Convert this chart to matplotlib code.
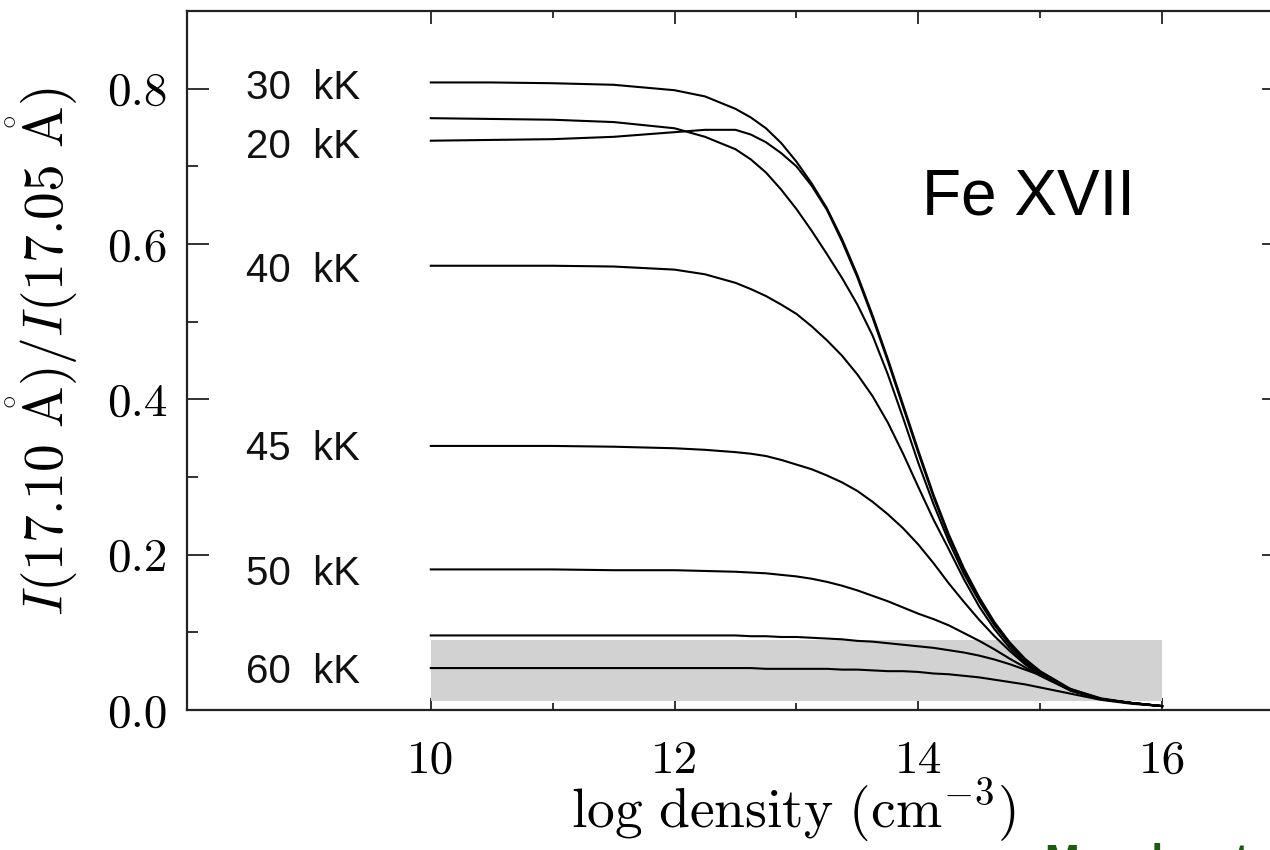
import matplotlib
matplotlib.use("Agg")
import matplotlib.pyplot as plt
from matplotlib.ticker import FixedLocator

plt.rcParams["mathtext.fontset"] = "cm"

# ── data (log density vs line ratio)
density = [10.0, 10.5, 11.0, 11.5, 12.0, 12.25, 12.5, 12.625, 12.75, 12.875,
           13.0, 13.125, 13.25, 13.375, 13.5, 13.625, 13.75, 13.875, 14.0,
           14.125, 14.25, 14.375, 14.5, 14.625, 14.75, 14.875, 15.0, 15.25,
           15.5, 15.75, 16.0]

ratio_30kK = [0.808, 0.808, 0.807, 0.805, 0.798, 0.790, 0.774, 0.763, 0.749, 0.730,
              0.706, 0.678, 0.646, 0.606, 0.560, 0.508, 0.452, 0.393, 0.334,
              0.277, 0.226, 0.182, 0.145, 0.113, 0.087, 0.066, 0.050, 0.027,
              0.014, 0.009, 0.005]
ratio_25kK = [0.762, 0.761, 0.760, 0.757, 0.749, 0.738, 0.722, 0.709, 0.692, 0.670,
              0.645, 0.617, 0.587, 0.556, 0.522, 0.482, 0.432, 0.376, 0.318,
              0.265, 0.217, 0.175, 0.140, 0.109, 0.084, 0.064, 0.048, 0.026,
              0.014, 0.009, 0.005]
ratio_20kK = [0.733, 0.734, 0.735, 0.738, 0.744, 0.747, 0.747, 0.741, 0.731, 0.717,
              0.700, 0.675, 0.644, 0.603, 0.557, 0.505, 0.449, 0.390, 0.331,
              0.274, 0.223, 0.180, 0.143, 0.111, 0.085, 0.065, 0.049, 0.026,
              0.014, 0.009, 0.005]
ratio_40kK = [0.572, 0.572, 0.572, 0.571, 0.567, 0.561, 0.550, 0.542, 0.533, 0.522,
              0.510, 0.494, 0.476, 0.456, 0.432, 0.404, 0.370, 0.330, 0.287,
              0.245, 0.207, 0.168, 0.133, 0.104, 0.080, 0.061, 0.046, 0.025,
              0.014, 0.009, 0.005]
ratio_45kK = [0.340, 0.340, 0.340, 0.339, 0.337, 0.335, 0.332, 0.330, 0.327, 0.322,
              0.316, 0.310, 0.302, 0.293, 0.282, 0.268, 0.252, 0.234, 0.213,
              0.189, 0.163, 0.139, 0.116, 0.095, 0.076, 0.059, 0.045, 0.025,
              0.014, 0.009, 0.005]
ratio_50kK = [0.181, 0.181, 0.181, 0.180, 0.180, 0.179, 0.178, 0.177, 0.176, 0.174,
              0.172, 0.169, 0.165, 0.160, 0.154, 0.147, 0.140, 0.132, 0.124,
              0.117, 0.109, 0.099, 0.089, 0.078, 0.066, 0.055, 0.044, 0.025,
              0.014, 0.009, 0.005]
ratio_55kK = [0.096, 0.096, 0.096, 0.096, 0.096, 0.096, 0.096, 0.095, 0.095, 0.094,
              0.094, 0.093, 0.092, 0.091, 0.089, 0.088, 0.086, 0.084, 0.082,
              0.080, 0.077, 0.074, 0.070, 0.065, 0.059, 0.052, 0.045, 0.027,
              0.015, 0.009, 0.005]
ratio_60kK = [0.054, 0.054, 0.054, 0.054, 0.054, 0.054, 0.054, 0.054, 0.053, 0.053,
              0.053, 0.053, 0.053, 0.052, 0.052, 0.051, 0.050, 0.050, 0.049,
              0.047, 0.046, 0.044, 0.042, 0.039, 0.036, 0.033, 0.029, 0.021,
              0.013, 0.008, 0.005]

curves = [ratio_30kK, ratio_25kK, ratio_20kK, ratio_40kK,
          ratio_45kK, ratio_50kK, ratio_55kK, ratio_60kK]

# curve labels: text and the ratio level they sit at (baseline)
label_text = ["30  kK", "20  kK", "40  kK", "45  kK", "50  kK", "60  kK"]
label_y = [0.787, 0.711, 0.5505, 0.3215, 0.161, 0.0347]

# shaded observed range
band_x = [10.0, 16.0]
band_lo, band_hi = 0.011, 0.090

fig = plt.figure(figsize=(12.7, 8.5), dpi=100)
ax = fig.add_axes([187 / 1270, 1 - 710 / 850, (1284 - 187) / 1270, (710 - 11) / 850])

ax.fill_between(band_x, band_lo, band_hi, color="#d2d2d2", lw=0, zorder=3)
for c in curves:
    ax.plot(density, c, color="black", lw=1.5, zorder=4)

for t, y in zip(label_text, label_y):
    ax.text(8.48, y, t, fontsize=29, family="Liberation Sans",
            ha="left", va="baseline", color="#111111")

ax.text(14.03, 0.638, "Fe XVII", fontsize=46, family="Liberation Sans",
        ha="left", va="baseline", color="black")

ax.set_xlim(8, 17)
ax.set_ylim(0, 0.9)
ax.set_xticks([10, 12, 14, 16])
ax.set_xticklabels(["10", "12", "14", "16"])
ax.xaxis.set_minor_locator(FixedLocator([11, 13, 15]))
ax.set_yticks([0.0, 0.2, 0.4, 0.6, 0.8])
ax.set_yticklabels(["0.0", "0.2", "0.4", "0.6", "0.8"])
ax.yaxis.set_minor_locator(FixedLocator([0.1, 0.3, 0.5, 0.7]))

ax.tick_params(axis="both", which="both", direction="in", top=True, right=True,
               color="#222222", width=1.3, labelfontfamily="cmr10", labelsize=34)
ax.tick_params(axis="x", which="major", length=9, pad=22)
ax.tick_params(axis="x", which="minor", length=5)
ax.tick_params(axis="y", which="major", length=16, pad=14)
ax.tick_params(axis="y", which="minor", length=8)

for s in ax.spines.values():
    s.set_linewidth(1.6)
    s.set_color("#222222")

ax.set_xlabel(r"$\mathrm{log\ density\ (cm^{-3})}$", fontsize=40)
ax.xaxis.set_label_coords((793 - 187) / (1284 - 187), -0.096)
ax.set_ylabel(r"$I(17.10\ \mathring{\mathrm{A}})/I(17.05\ \mathring{\mathrm{A}})$",
              fontsize=40)
ax.yaxis.set_label_coords(-0.0975, 0.513)

# credit line cut by the bottom edge of the picture
fig.text(1045 / 1270, -24 / 850, "Mauche et al.", fontsize=30, fontweight="bold",
         family="Liberation Sans", color="#1d5a12", ha="left", va="baseline")

fig.savefig("out.png", dpi=100)
